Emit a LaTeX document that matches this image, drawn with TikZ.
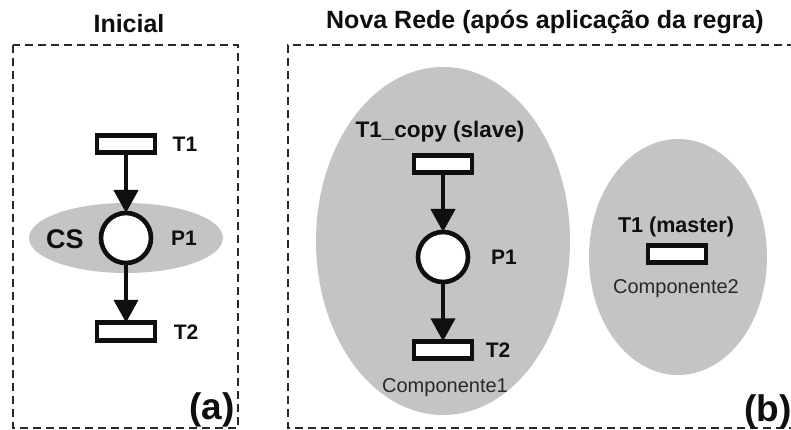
\documentclass[tikz,border=0pt]{standalone}
\usepackage{fontspec}
\setmainfont{Liberation Sans}
\usetikzlibrary{arrows.meta,shapes.geometric}
\definecolor{regionfill}{RGB}{196,196,196}
\definecolor{frameline}{RGB}{40,40,40}
\definecolor{ink}{RGB}{15,15,15}
\definecolor{softink}{RGB}{40,40,40}
\begin{document}
\begin{tikzpicture}[x=1pt,y=-1pt,
  trans/.style={draw=ink, line width=4.6pt, fill=white, minimum width=58pt,
    minimum height=17.5pt, inner sep=0pt},
  place/.style={circle, draw=ink, line width=4.6pt, fill=white,
    minimum size=50pt, inner sep=0pt},
  flow/.style={draw=ink, line width=4.2pt, -{Triangle[width=24pt,length=23pt]}, shorten >=-2.3pt},
  frame/.style={draw=frameline, line width=2.2pt, dash pattern=on 8pt off 5pt},
  region/.style={ellipse, fill=regionfill, inner sep=0pt},
  lbl/.style={inner sep=0pt, text=ink, font=\bfseries\fontsize{21}{21}\selectfont},
  title/.style={inner sep=0pt, text=ink, font=\bfseries\fontsize{25}{25}\selectfont},
  tag/.style={inner sep=0pt, text=ink, font=\bfseries\fontsize{37}{37}\selectfont},
  comp/.style={inner sep=0pt, text=softink, font=\fontsize{20}{20}\selectfont}]
\useasboundingbox (0,0) rectangle (791,430);

% frames and titles
\draw[frame] (13,45) rectangle (238,428);
\draw[frame] (795,45) -- (288,45) -- (288,428) -- (795,428);
\node[title] (ttlA) at (129,24) {Inicial};
\node[title] (ttlB) at (545,22) {Nova Rede (após aplicação da regra)};

% (a) initial net
\node[region, minimum width=194pt, minimum height=70pt] (cs) at (126,238) {};
\node[trans] (aT1) at (126,144) {};
\node[place] (aP1) at (126,238) {};
\node[trans] (aT2) at (126,331.5) {};
\draw[flow] (aT1) -- (aP1);
\draw[flow] (aP1) -- (aT2);
\node[lbl] (laT1) at (185,144) {T1};
\node[lbl] (laP1) at (184,238) {P1};
\node[lbl, font=\bfseries\fontsize{27}{27}\selectfont] (laCS) at (65,239) {CS};
\node[lbl] (laT2) at (186,332) {T2};
\node[tag] (tagA) at (212,410) {(a)};

% (b) net after applying the rule
\node[region, minimum width=254pt, minimum height=348pt] (comp1) at (443,241) {};
\node[region, minimum width=178pt, minimum height=236pt] (comp2) at (678,257) {};
\node[trans] (bT1c) at (443,164) {};
\node[place] (bP1) at (443,257) {};
\node[trans] (bT2) at (443,350) {};
\draw[flow] (bT1c) -- (bP1);
\draw[flow] (bP1) -- (bT2);
\node[lbl, font=\bfseries\fontsize{22.5}{22.5}\selectfont] (lbT1c) at (440,132) {T1\_copy (slave)};
\node[lbl] (lbP1) at (504,257) {P1};
\node[lbl] (lbT2) at (498,350) {T2};
\node[comp] (lcomp1) at (445,388) {Componente1};
\node[lbl, font=\bfseries\fontsize{21.5}{21.5}\selectfont] (lbT1m) at (676,227) {T1 (master)};
\node[trans] (bT1m) at (677,254) {};
\node[comp] (lcomp2) at (676,289) {Componente2};
\node[tag] (tagB) at (768,412) {(b)};
\end{tikzpicture}
\end{document}
